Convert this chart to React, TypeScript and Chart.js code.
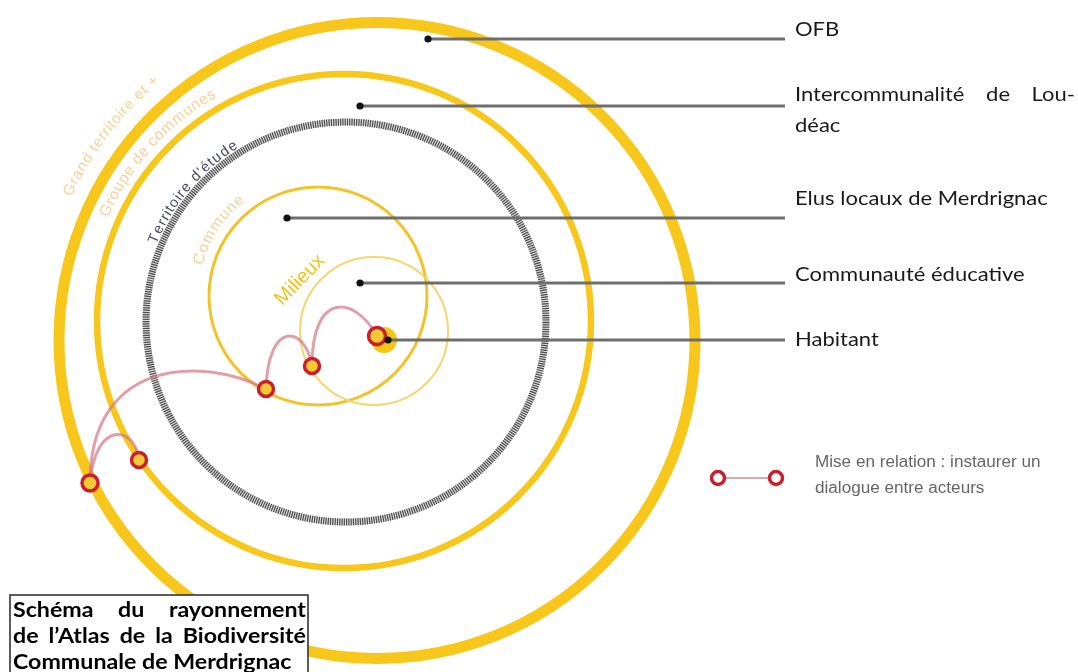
import React, { useEffect, useRef } from 'react';
import { Chart, registerables } from 'chart.js';

Chart.register(...registerables);

const CANVAS_W = 1078;
const CANVAS_H = 672;

// ---- Concentric territories (data units == pixels of the reference) ----
const ringLabels = ['Grand territoire et +', 'Groupe de communes', "Territoire d'étude", 'Commune'];
const ringCenterX = [377, 344, 346, 318, 374];
const ringCenterY = [340.5, 321, 322, 296, 331];
const ringRadius = [318, 247, 200, 109, 74];
// label arcs: text-centre radius and angular extent (degrees, clockwise)
const labelArcRadius = [342, 262, 209, 124];
const labelArcStart = [-155, -156.5, -158, -165.5];
const labelArcEnd = [-130, -119.5, -122, -127.5];

const milieuxLabel = 'Milieux';
const milieuxPos = [300, 280];

// ---- Actors ----
const actorLines = [
  ['OFB'],
  ['Intercommunalité de Lou-', 'déac'],
  ['Elus locaux de Merdrignac'],
  ['Communauté éducative'],
  ['Habitant'],
];
const actorX = [428, 360, 287, 360, 388];
const actorY = [39, 106, 218, 283, 340];
const actorLabelBaseline = [36, 101, 205, 281, 346];
const leaderEndX = 785;
const habitantBlob = [384, 340, 13];

// ---- Relation nodes & links ----
const nodeX = [377, 312, 266, 139, 90];
const nodeY = [336, 366, 389, 460, 483];
const nodeR = [8.5, 7.5, 7.5, 7.5, 8];
const linkFrom = [0, 1, 2, 3];
const linkTo = [1, 2, 4, 4];
const linkC1 = [[355, 296], [305, 325], [200, 355], [135, 425]];
const linkC2 = [[312, 290], [268, 320], [90, 360], [95, 420]];

// ---- Legend & title ----
const legendText = ['Mise en relation : instaurer un', 'dialogue entre acteurs'];
const legendNodes = [[718, 478], [776, 478]];
const titleLines = ['Schéma du rayonnement', 'de l’Atlas de la Biodiversité', 'Communale de Merdrignac'];

const YELLOW = '#F8C71C';
const RED = '#C8202E';

function drawScaled(ctx: CanvasRenderingContext2D, text: string, x: number, y: number, sx: number) {
  ctx.save();
  ctx.translate(x, y);
  ctx.scale(sx, 1);
  ctx.fillText(text, 0, 0);
  ctx.restore();
}

function justify(ctx: CanvasRenderingContext2D, text: string, x0: number, x1: number, y: number, sx: number) {
  const words = text.split(' ');
  const ws = words.map((w) => ctx.measureText(w).width * sx);
  const total = ws.reduce((a, b) => a + b, 0);
  const gap = words.length > 1 ? (x1 - x0 - total) / (words.length - 1) : 0;
  let x = x0;
  words.forEach((w, i) => {
    drawScaled(ctx, w, x, y, sx);
    x += ws[i] + gap;
  });
}

function arcText(
  ctx: CanvasRenderingContext2D,
  text: string,
  cx: number,
  cy: number,
  r: number,
  a0: number,
  a1: number,
  font: string,
  color: string
) {
  ctx.save();
  ctx.font = font;
  ctx.fillStyle = color;
  ctx.textAlign = 'center';
  ctx.textBaseline = 'middle';
  const total = ctx.measureText(text).width;
  const k = ((a1 - a0) * r) / total;
  let acc = 0;
  for (const ch of Array.from(text)) {
    const w = ctx.measureText(ch).width;
    const a = a0 + ((acc + w / 2) * k) / r;
    ctx.save();
    ctx.translate(cx + r * Math.cos(a), cy + r * Math.sin(a));
    ctx.rotate(a + Math.PI / 2);
    ctx.fillText(ch, 0, 0);
    ctx.restore();
    acc += w;
  }
  ctx.restore();
}

const deg = Math.PI / 180;

const diagramPlugin = {
  id: 'diagram',
  beforeDatasetsDraw(chart: any) {
    const ctx: CanvasRenderingContext2D = chart.ctx;
    const xs = chart.scales.x;
    const ys = chart.scales.y;
    const px = (v: number) => xs.getPixelForValue(v);
    const py = (v: number) => ys.getPixelForValue(v);
    const unit = px(1) - px(0);

    ctx.save();
    const ring = (i: number, color: string, lw: number, dash: number[] = []) => {
      ctx.beginPath();
      ctx.setLineDash(dash);
      ctx.strokeStyle = color;
      ctx.lineWidth = lw;
      ctx.arc(px(ringCenterX[i]), py(ringCenterY[i]), ringRadius[i] * unit, 0, Math.PI * 2);
      ctx.stroke();
    };
    ring(0, YELLOW, 11);
    ring(1, YELLOW, 6.5);
    ring(2, 'rgba(160,160,160,0.35)', 7);
    ring(2, 'rgba(60,60,60,0.9)', 7, [1.2, 1.1]);
    ctx.setLineDash([]);
    ring(3, '#F2C32C', 3);
    ring(4, '#F5D66E', 2);

    // habitant blob
    ctx.beginPath();
    ctx.fillStyle = '#F5C518';
    ctx.arc(px(habitantBlob[0]), py(habitantBlob[1]), habitantBlob[2] * unit, 0, Math.PI * 2);
    ctx.fill();

    // ring labels
    const labelColors = ['#F8D09A', '#F8D09A', '#474E64', '#F8D09A'];
    const labelFonts = [
      '15px "Liberation Sans"',
      '15.5px "Liberation Sans"',
      '14.5px "Liberation Sans"',
      '15.5px "Liberation Sans"',
    ];
    ringLabels.forEach((t, i) => {
      arcText(
        ctx,
        t,
        px(ringCenterX[i]),
        py(ringCenterY[i]),
        labelArcRadius[i] * unit,
        labelArcStart[i] * deg,
        labelArcEnd[i] * deg,
        labelFonts[i],
        labelColors[i]
      );
    });

    // Milieux
    ctx.save();
    ctx.translate(px(milieuxPos[0]), py(milieuxPos[1]));
    ctx.rotate(-46 * deg);
    ctx.font = '20px "Liberation Sans"';
    ctx.fillStyle = '#F2C21C';
    ctx.textAlign = 'center';
    ctx.textBaseline = 'middle';
    ctx.fillText(milieuxLabel, 0, 0);
    ctx.restore();

    // links
    ctx.strokeStyle = 'rgba(212,118,132,0.7)';
    ctx.lineWidth = 3;
    linkFrom.forEach((f, i) => {
      const t = linkTo[i];
      ctx.beginPath();
      ctx.moveTo(px(nodeX[f]), py(nodeY[f]));
      ctx.bezierCurveTo(px(linkC1[i][0]), py(linkC1[i][1]), px(linkC2[i][0]), py(linkC2[i][1]), px(nodeX[t]), py(nodeY[t]));
      ctx.stroke();
    });
    ctx.restore();
  },
  afterDatasetsDraw(chart: any) {
    const ctx: CanvasRenderingContext2D = chart.ctx;
    const xs = chart.scales.x;
    const ys = chart.scales.y;
    const px = (v: number) => xs.getPixelForValue(v);
    const py = (v: number) => ys.getPixelForValue(v);
    ctx.save();

    // actor labels
    ctx.fillStyle = '#1a1a1a';
    ctx.font = '20px Lato';
    ctx.textBaseline = 'alphabetic';
    ctx.textAlign = 'left';
    const lx = px(leaderEndX + 10);
    const sxLabel = 1.1;
    actorLines.forEach((lines, i) => {
      lines.forEach((line, j) => {
        const y = py(actorLabelBaseline[i] + j * 31);
        if (lines.length > 1 && j < lines.length - 1) justify(ctx, line, lx, px(1075), y, sxLabel);
        else drawScaled(ctx, line, lx, y, sxLabel);
      });
    });

    // legend
    ctx.strokeStyle = 'rgba(200,120,130,0.85)';
    ctx.lineWidth = 1.5;
    ctx.beginPath();
    ctx.moveTo(px(legendNodes[0][0]), py(legendNodes[0][1]));
    ctx.lineTo(px(legendNodes[1][0]), py(legendNodes[1][1]));
    ctx.stroke();
    legendNodes.forEach(([x, y]) => {
      ctx.beginPath();
      ctx.fillStyle = '#fff';
      ctx.strokeStyle = RED;
      ctx.lineWidth = 3.5;
      ctx.arc(px(x), py(y), 6.5, 0, Math.PI * 2);
      ctx.fill();
      ctx.stroke();
    });
    ctx.fillStyle = '#666';
    ctx.font = '16px "Liberation Sans"';
    legendText.forEach((t, i) => drawScaled(ctx, t, px(815), py(467 + i * 26), 1.07));

    // title box
    const bx0 = px(10), bx1 = px(308), by0 = py(595), by1 = py(676);
    ctx.fillStyle = '#fff';
    ctx.fillRect(bx0, by0, bx1 - bx0, by1 - by0);
    ctx.strokeStyle = '#333';
    ctx.lineWidth = 1.6;
    ctx.strokeRect(bx0, by0, bx1 - bx0, by1 - by0);
    ctx.fillStyle = '#000';
    ctx.font = 'bold 20px Lato';
    const sxTitle = 1.16;
    titleLines.forEach((t, i) => {
      const y = py(617 + i * 26);
      if (i < titleLines.length - 1) justify(ctx, t, px(13), px(306), y, sxTitle);
      else drawScaled(ctx, t, px(13), y, sxTitle);
    });
    ctx.restore();
  },
};

export default function App() {
  const ref = useRef<HTMLCanvasElement>(null);
  useEffect(() => {
    document.body.style.margin = '0';
    const canvas = ref.current!;
    const leaderSets = actorX.map((x, i) => ({
      data: [
        { x, y: actorY[i] },
        { x: leaderEndX, y: actorY[i] },
      ],
      showLine: true,
      borderColor: '#6e6e6e',
      borderWidth: 2.8,
      pointRadius: 0,
      clip: false as any,
    }));
    const chart = new Chart(canvas, {
      type: 'scatter',
      data: {
        datasets: [
          {
            data: actorX.map((x, i) => ({ x, y: actorY[i] })),
            pointRadius: 3.6,
            pointBackgroundColor: '#111',
            pointBorderWidth: 0,
            clip: false as any,
          },
          {
            data: nodeX.map((x, i) => ({ x, y: nodeY[i] })),
            pointRadius: nodeR,
            pointBackgroundColor: '#F4C934',
            pointBorderColor: RED,
            pointBorderWidth: 3.5,
            clip: false as any,
          },
          ...leaderSets,
        ] as any,
      },
      options: {
        animation: false,
        responsive: false,
        maintainAspectRatio: false,
        events: [],
        layout: { padding: 0, autoPadding: false } as any,
        plugins: { legend: { display: false }, tooltip: { enabled: false } },
        scales: {
          x: { type: 'linear', min: 0, max: CANVAS_W, display: false },
          y: { type: 'linear', min: 0, max: CANVAS_H, reverse: true, display: false },
        },
      },
      plugins: [diagramPlugin],
    });
    return () => chart.destroy();
  }, []);
  return (
    <div style={{ position: 'fixed', left: 0, top: 0, width: CANVAS_W, height: CANVAS_H, background: '#fff' }}>
      <canvas ref={ref} width={CANVAS_W} height={CANVAS_H} style={{ width: CANVAS_W, height: CANVAS_H, display: 'block' }} />
    </div>
  );
}
